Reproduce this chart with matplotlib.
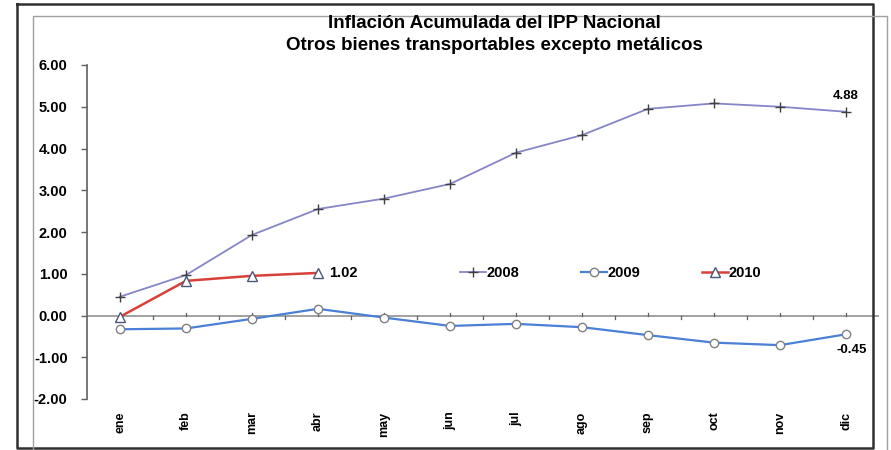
import matplotlib
matplotlib.use("Agg")
import matplotlib.pyplot as plt
from matplotlib.lines import Line2D
import numpy as np

plt.rcParams['font.family'] = ['Liberation Sans', 'DejaVu Sans']

months = ["ene", "feb", "mar", "abr", "may", "jun", "jul", "ago", "sep", "oct", "nov", "dic"]
s2008 = [0.45, 0.97, 1.93, 2.55, 2.80, 3.15, 3.90, 4.32, 4.95, 5.08, 5.00, 4.88]
s2009 = [-0.33, -0.31, -0.08, 0.16, -0.05, -0.25, -0.20, -0.28, -0.47, -0.65, -0.71, -0.45]
s2010 = [-0.03, 0.83, 0.95, 1.02]
yticks = [6, 5, 4, 3, 2, 1, 0, -1, -2]

fig = plt.figure(figsize=(8.91, 4.5), dpi=100)
ax = fig.add_axes([87/891, 1-399/450, (879-87)/891, (399-65)/450])

x = np.arange(len(months))
ax.plot(x, s2008, color="#8585c8", lw=1.3, marker="+", ms=6.5, mec="#404040", mew=1.0, label="2008", zorder=3)
ax.plot(x, s2009, color="#4a80d6", lw=1.6, marker="o", ms=6, mfc="white", mec="#808080", mew=1.0, label="2009", zorder=4)
ax.plot(x[:len(s2010)], s2010, color="#d8403a", lw=1.8, marker="^", ms=6.5, mfc="white", mec="#4a5878", mew=1.0, label="2010", zorder=5)

ax.set_xlim(-0.5, len(months) - 0.5)
ax.set_ylim(-2, 6)
ax.set_yticks(yticks)
ax.set_yticklabels([f"{v:.2f}" for v in yticks], fontsize=10.5, fontweight="bold")
ax.tick_params(axis="y", direction="out", length=4, width=1, color="#606060", pad=10)

ax.set_xticks(x)
ax.set_xticklabels(months, rotation=90, fontsize=9, fontweight="bold")
ax.tick_params(axis="x", length=0, pad=9)

for sp in ["top", "right", "bottom"]:
    ax.spines[sp].set_visible(False)
ax.spines["left"].set_color("#606060")
ax.spines["left"].set_linewidth(1.2)

# zero line with ticks
ax.axhline(0, color="#9a9a9a", lw=1.3, zorder=2)
for b in np.arange(0.5, len(months) - 0.5, 1.0):
    ax.plot([b, b], [0, -0.08], color="#606060", lw=0.9, zorder=2)
for c in x:
    ax.plot([c, c], [0, 0.07], color="#606060", lw=0.9, zorder=2)

# annotations
ax.annotate(f"{s2008[-1]:.2f}", (x[-1], s2008[-1]), xytext=(0, 7), textcoords="offset points",
            ha="center", va="bottom", fontsize=9.5, fontweight="bold")
ax.annotate(f"{s2010[-1]:.2f}", (x[len(s2010)-1], s2010[-1]), xytext=(8, 0), textcoords="offset points",
            ha="left", va="center", fontsize=10.5, fontweight="bold")
ax.annotate(f"{s2009[-1]:.2f}", (x[-1], s2009[-1]), xytext=(4, -7), textcoords="offset points",
            ha="center", va="top", fontsize=9.5, fontweight="bold")

leg = ax.legend(loc="center left", bbox_to_anchor=((460-87)/792, (1.02+2)/8), ncol=3, frameon=False,
                fontsize=10.5, handlelength=1.8, columnspacing=4.2, handletextpad=0.05, borderaxespad=0,
                borderpad=0)
for t in leg.get_texts():
    t.set_fontweight("bold")

fig.text(494/891, 1-24/450, "Inflación Acumulada del IPP Nacional", ha="center", va="center",
         fontsize=13.5, fontweight="bold")
fig.text(494/891, 1-46/450, "Otros bienes transportables excepto metálicos", ha="center", va="center",
         fontsize=13.5, fontweight="bold")

# frames
W, H = 891, 450
def fl(xs, ys, **kw):
    fig.add_artist(Line2D([v / W for v in xs], [1 - v / H for v in ys], transform=fig.transFigure, **kw))

fl([17, 873, 873, 17, 17], [4, 4, 448, 448, 4], color="#303030", lw=1.8)
fl([33, 33, 887, 887], [452, 16, 16, 452], color="#a0a0a0", lw=1.0)

fig.savefig("out.png", dpi=100)
